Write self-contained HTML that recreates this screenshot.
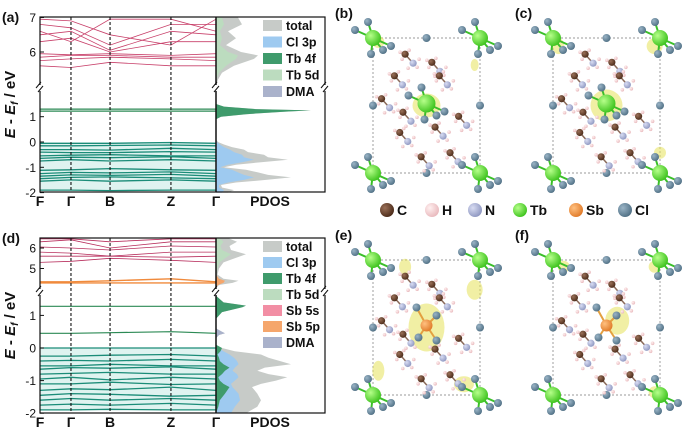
<!DOCTYPE html>
<html><head><meta charset="utf-8">
<style>
html,body{margin:0;padding:0;background:#fff;}
svg{display:block;font-family:"Liberation Sans",Arial,sans-serif;}
</style></head>
<body>
<svg id="fig" width="693" height="436" viewBox="0 0 693 436" xmlns="http://www.w3.org/2000/svg">
<g id="bandA"></g>
<g id="bandD"></g>
<g id="structs"></g>
</svg>
<script>
// ---------- DATA ----------
const kLabels = ["F","Γ","B","Z","Γ"];
const kFrac = [0, 0.176, 0.398, 0.744, 1];
// panel (a) bands: energies at 5 k-points
const bandsA_valence = [[-1.9,-1.9,-1.92,-1.9,-1.9],[-1.55,-1.5,-1.55,-1.5,-1.55],[-1.45,-1.4,-1.38,-1.42,-1.45],[-1.35,-1.3,-1.32,-1.28,-1.35],[-1.25,-1.2,-1.22,-1.18,-1.25],[-1.12,-1.1,-1.05,-1.1,-1.12],[-0.75,-0.7,-0.75,-0.7,-0.75],[-0.65,-0.6,-0.62,-0.58,-0.65],[-0.55,-0.52,-0.5,-0.55,-0.55],[-0.4,-0.42,-0.42,-0.38,-0.4],[-0.3,-0.3,-0.32,-0.25,-0.3],[-0.15,-0.15,-0.14,-0.12,-0.15],[-0.05,-0.05,-0.05,-0.02,-0.05]];
const bandsA_4f = [[1.22,1.22,1.22,1.22,1.22],[1.3,1.3,1.3,1.3,1.3]];
const bandsA_cond = [[5.6,5.55,5.7,5.6,5.6],[5.75,5.8,5.85,5.8,5.75],[5.85,5.9,5.9,5.85,5.85],[5.95,5.92,5.95,5.9,5.95],[6.3,6.4,6.0,6.3,6.3],[6.5,6.6,6.05,6.6,6.5],[6.8,6.7,6.2,6.8,6.8],[6.95,6.9,6.5,6.2,6.95],[6.6,6.3,6.95,6.95,6.6]];
// panel (d) bands
const bandsD_valence = [[-1.9,-1.9,-1.88,-1.9,-1.9],[-1.75,-1.72,-1.75,-1.7,-1.75],[-1.6,-1.55,-1.6,-1.55,-1.6],[-1.45,-1.4,-1.42,-1.48,-1.45],[-1.3,-1.25,-1.28,-1.2,-1.3],[-1.1,-1.1,-1.05,-1.12,-1.1],[-0.95,-0.9,-0.98,-0.9,-0.95],[-0.8,-0.78,-0.75,-0.8,-0.8],[-0.65,-0.6,-0.62,-0.58,-0.65],[-0.55,-0.55,-0.5,-0.55,-0.55],[-0.4,-0.38,-0.4,-0.35,-0.4],[-0.25,-0.25,-0.22,-0.2,-0.25],[0,0,0,0,0]];
const bandsD_4f = [[0.45,0.45,0.47,0.5,0.45],[1.28,1.28,1.28,1.28,1.28]];
const bandsD_sb = [[4.35,4.35,4.4,4.5,4.35],[4.3,4.3,4.3,4.3,4.3]];
const bandsD_cond = [[5.3,5.35,5.5,5.4,5.3],[5.6,5.6,5.6,5.55,5.6],[5.8,5.75,5.6,5.8,5.8],[6.05,6.0,5.9,6.1,6.05],[6.3,6.4,6.0,6.3,6.3],[6.45,6.45,6.3,6.45,6.45]];
// PDOS (a)
const eA = [-2,-1.9,-1.8,-1.7,-1.6,-1.5,-1.4,-1.3,-1.2,-1.1,-1.0,-0.9,-0.8,-0.7,-0.6,-0.5,-0.4,-0.3,-0.2,-0.1,0,0.1,0.9,1.0,1.1,1.2,1.25,1.3,1.4,1.5,1.8];
const totA = [12,18,6,5,20,50,75,52,42,30,8,20,45,72,52,48,32,28,16,8,2,0,0,5,30,70,95,40,8,0,0];
const clA = [6,8,3,3,12,28,38,28,22,16,4,12,26,38,28,26,18,14,8,4,1,0,0,0,0,0,0,0,0,0,0];
const f4A = [0,0,0,0,0,0,0,0,0,0,0,0,0,0,0,0,0,0,0,0,0,0,0,5,30,70,95,40,8,0,0];
const eAu = [5.0,5.2,5.4,5.6,5.8,5.9,6.0,6.2,6.4,6.6,6.8,7.0];
const totAu = [0,2,6,18,38,42,25,10,20,12,26,22];
const d5Au = [0,0,3,10,20,22,12,4,6,4,8,6];
// PDOS (d)
const eD = [-2,-1.8,-1.6,-1.4,-1.2,-1.1,-1.0,-0.9,-0.8,-0.7,-0.6,-0.5,-0.4,-0.3,-0.2,-0.1,0,0.1,0.3,0.4,0.45,0.5,0.6,0.9,1.1,1.25,1.3,1.4,1.6];
const totD = [40,55,60,55,48,60,80,95,70,55,65,100,85,70,60,25,8,0,0,4,12,8,0,0,8,35,40,10,0];
const clD = [20,25,32,30,22,20,25,30,28,22,25,30,28,24,18,10,3,0,0,0,0,0,0,0,0,0,0,0,0];
const f4D = [0,3,5,12,18,10,5,3,8,12,18,10,5,4,2,6,8,0,0,0,0,0,0,0,8,35,40,10,0];
const dmaD = [0,0,0,0,0,0,0,0,0,0,0,0,0,0,0,0,0,0,0,4,12,8,0,0,0,0,0,0,0];
const eDu = [4.1,4.2,4.3,4.4,4.5,4.7,5.0,5.3,5.5,5.7,5.9,6.1,6.3,6.5];
const totDu = [0,5,22,30,10,2,4,10,25,40,20,18,28,15];
const sbDu = [0,3,10,12,4,0,0,0,0,0,0,0,0,0];
const d5Du = [0,0,0,0,0,0,2,5,12,20,8,6,10,4];

// ---------- DRAW ----------
const NS="http://www.w3.org/2000/svg";
function mk(parent,tag,attrs,text){const e=document.createElementNS(NS,tag);for(const k in attrs)e.setAttribute(k,attrs[k]);if(text!==undefined)e.textContent=text;parent.appendChild(e);return e;}

function panel(g, cfg){
  const X0=40,X1=216,XP=325;
  const kx=f=>X0+(X1-X0)*f;
  const y=cfg.y;
  const px=v=>X1+v*cfg.pscale;
  // band lines
  function drawBands(arr,color,w,name){
    arr.forEach((b,i)=>{
      const d=b.map((e,j)=>(j?"L":"M")+kx(kFrac[j]).toFixed(1)+" "+y(e).toFixed(1)).join(" ");
      const p=mk(g,"path",{d:d,stroke:color,"stroke-width":w,fill:"none"});
      
      
    });
  }
  // shading under valence bands
  const vb=cfg.valence;
  const lo=Math.min(...vb.map(b=>Math.min(...b))), hi=Math.max(...vb.map(b=>Math.max(...b)));
  mk(g,"rect",{x:X0,y:y(hi),width:X1-X0,height:y(lo)-y(hi),fill:"#dff3f0"});
  drawBands(vb,"#1b8c78",1.3,"valence-band");
  drawBands(cfg.f4,"#2c8a55",1.2,"tb4f-band");
  if(cfg.sb) drawBands(cfg.sb,"#f08a3c",1.4,"sb5p-band");
  drawBands(cfg.cond,cfg.condColor,0.8,"conduction-band");
  // k dashed lines
  [1,2,3].forEach(i=>{const l=mk(g,"line",{x1:kx(kFrac[i]),x2:kx(kFrac[i]),y1:cfg.top,y2:cfg.bot,stroke:"#111","stroke-width":1.1,"stroke-dasharray":"3,2"});
    });
  // PDOS areas
  function area(es,vs,color,name){
    let d="M"+px(0)+" "+y(es[0]);
    es.forEach((e,i)=>{d+=" L"+px(vs[i]).toFixed(1)+" "+y(e).toFixed(1);});
    d+=" L"+px(0)+" "+y(es[es.length-1])+"Z";
    const p=mk(g,"path",{d:d,fill:color,stroke:"none"});
    
  }
  cfg.pdos.forEach(s=>area(s[0],s[1],s[2],s[3]));
  // break gap
  mk(g,"rect",{x:X0-3,y:cfg.brk-2,width:4,height:4,fill:"#fff"});
  mk(g,"rect",{x:X1-2,y:cfg.brk-2,width:4,height:4,fill:"#fff"});
  // frames
  mk(g,"rect",{x:X0,y:cfg.top,width:XP-X0,height:cfg.bot-cfg.top,fill:"none",stroke:"#111","stroke-width":1.2});
  mk(g,"line",{x1:X1,x2:X1,y1:cfg.top,y2:cfg.bot,stroke:"#111","stroke-width":1.5});
  // break marks
  [X0,X1,XP].forEach(x=>{
    mk(g,"rect",{x:x-2,y:cfg.brk-3,width:4,height:6,fill:"#fff"});
    mk(g,"line",{x1:x-4,y1:cfg.brk,x2:x+1,y2:cfg.brk-6,stroke:"#111","stroke-width":1});
    mk(g,"line",{x1:x-2,y1:cfg.brk+4,x2:x+3,y2:cfg.brk-2,stroke:"#111","stroke-width":1});
  });
  // y ticks
  cfg.ticks.forEach(t=>{
    mk(g,"line",{x1:X0,x2:X0+4,y1:y(t),y2:y(t),stroke:"#111"});
    const tx=mk(g,"text",{x:X0-4,y:y(t)+4.5,"text-anchor":"end","font-size":12,fill:"#111"},String(t).replace("-","-"));
    
  });
  // x labels
  kLabels.forEach((k,i)=>{const t=mk(g,"text",{x:kx(kFrac[i]),y:cfg.bot+14,"text-anchor":"middle","font-size":14,"font-weight":"bold",fill:"#111"},k);
    });
  const pl=mk(g,"text",{x:270,y:cfg.bot+14,"text-anchor":"middle","font-size":14,"font-weight":"bold",fill:"#111"},"PDOS");
  
  // y title
  const yt=mk(g,"text",{transform:`translate(15,${(cfg.top+cfg.bot)/2}) rotate(-90)`,"text-anchor":"middle","font-size":15,"font-weight":"bold",fill:"#111"});
  yt.innerHTML='<tspan font-style="italic">E</tspan> - <tspan font-style="italic">E</tspan><tspan font-size="10" dy="3" font-style="italic">f</tspan><tspan dy="-3"> / eV</tspan>';
  
  // panel label
  const lb=mk(g,"text",{x:2,y:cfg.top+5,"font-size":14,"font-weight":"bold",fill:"#111"},cfg.label);
  
  // legend
  cfg.legend.forEach((L,i)=>{
    const gy=cfg.legY+i*cfg.legDy;
    const lg=mk(g,"g",{});
    
    
    mk(lg,"rect",{x:263,y:gy-5,width:19,height:11,fill:L[1]});
    mk(lg,"text",{x:286,y:gy+5,"font-size":12.5,"font-weight":"bold",fill:"#111"},L[0]);
  });
}

const cTot="#c7cbc8",cCl="#9ecaf0",c4f="#3f9b6c",c5d="#bcdcbf",cDMA="#aab2cb",cSs="#f28ea4",cSp="#f5a66c";
panel(document.getElementById("bandA"),{
  label:"(a)",top:17,bot:192,brk:88,
  y:e=>e>3?52-(e-6)*34.5:142-e*25.3,
  ticks:[7,6,1,0,-1,-2],pscale:1.0,
  valence:bandsA_valence,f4:bandsA_4f,cond:bandsA_cond,condColor:"#c8406a",
  pdos:[[eA,totA,cTot,"total"],[eA,clA,cCl,"cl3p"],[eA,f4A,c4f,"tb4f"],[eAu,totAu,cTot,"total-upper"],[eAu,d5Au,c5d,"tb5d"]],
  legend:[["total",cTot],["Cl 3p",cCl],["Tb 4f",c4f],["Tb 5d",c5d],["DMA",cDMA]],legY:25,legDy:16.5
});
panel(document.getElementById("bandD"),{
  label:"(d)",top:238,bot:413,brk:292,
  y:e=>e>3?248-(e-6)*20.5:348-e*32.6,
  ticks:[6,5,1,0,-1,-2],pscale:0.75,
  valence:bandsD_valence,f4:bandsD_4f,sb:bandsD_sb,cond:bandsD_cond,condColor:"#b8305e",
  pdos:[[eD,totD,cTot,"total"],[eD,clD,cCl,"cl3p"],[eD,f4D,c4f,"tb4f"],[eD,dmaD,cDMA,"dma"],[eDu,totDu,cTot,"total-upper"],[eDu,sbDu,cSp,"sb5p"],[eDu,d5Du,c5d,"tb5d"]],
  legend:[["total",cTot],["Cl 3p",cCl],["Tb 4f",c4f],["Tb 5d",c5d],["Sb 5s",cSs],["Sb 5p",cSp],["DMA",cDMA]],legY:246,legDy:16
});

// ---------- STRUCTURES ----------
const S=document.getElementById("structs");
const defs=mk(S,"defs",{});
function grad(id,c1,c2){const r=mk(defs,"radialGradient",{id:id,cx:"35%",cy:"35%",r:"70%"});mk(r,"stop",{offset:"0",  "stop-color":c1});mk(r,"stop",{offset:"1","stop-color":c2});}
grad("gTb","#b6ff8a","#3cc21c");grad("gCl","#9ab4c6","#4f6f84");grad("gC","#9a7058","#4a2a18");
grad("gN","#d8dcf2","#8d96c0");grad("gH","#fff0f0","#e8b8bc");grad("gSb","#ffc080","#e07a28");
const molecules=[[0.3,0.12],[0.2,0.28],[0.55,0.18],[0.62,0.28],[0.28,0.55],[0.25,0.7],[0.58,0.66],[0.8,0.58],[0.72,0.85],[0.45,0.88],[0.08,0.45]];
function structure(ox,oy,label,center,glow){
  const g=mk(S,"g",{});
  
  
  const W=107,H=135;
  mk(g,"text",{x:ox-38,y:oy-20,"font-size":14,"font-weight":"bold",fill:"#111"},label);
  mk(g,"rect",{x:ox,y:oy,width:W,height:H,fill:"none",stroke:"#777","stroke-width":0.7,"stroke-dasharray":"2,2"});
  if(glow) glow.forEach(p=>mk(g,"ellipse",{cx:ox+p[0]*W,cy:oy+p[1]*H,rx:p[2],ry:p[3],fill:"#e6e25a",opacity:0.55}));
  // edge Cl
  [[0.5,0],[0.5,1],[0,0.5],[1,0.5]].forEach(p=>mk(g,"circle",{cx:ox+p[0]*W,cy:oy+p[1]*H,r:4,fill:"url(#gCl)"}));
  molecules.forEach(m=>{
    const x=ox+m[0]*W,y=oy+m[1]*H;
    mk(g,"line",{x1:x,y1:y,x2:x+8,y2:y+9,stroke:"#8a6a5a","stroke-width":1.5});
    [[-5,-2],[4,-4],[-3,5],[12,13],[3,14],[14,5]].forEach(h=>mk(g,"circle",{cx:x+h[0],cy:y+h[1],r:1.8,fill:"url(#gH)"}));
    mk(g,"circle",{cx:x,cy:y,r:3.6,fill:"url(#gC)"});
    mk(g,"circle",{cx:x+8,cy:y+9,r:3.6,fill:"url(#gN)"});
  });
  function metal(cx,cy,grd,r){
    [[-18,-8],[-5,-16],[10,12],[-2,16],[18,8]].forEach(c=>{mk(g,"line",{x1:cx,y1:cy,x2:cx+c[0],y2:cy+c[1],stroke:"#3bbf2a","stroke-width":2});mk(g,"circle",{cx:cx+c[0],cy:cy+c[1],r:4,fill:"url(#gCl)"});});
    mk(g,"circle",{cx:cx,cy:cy,r:r,fill:grd});
  }
  [[0,0],[1,0],[0,1],[1,1]].forEach(p=>metal(ox+p[0]*W,oy+p[1]*H,"url(#gTb)",8));
  if(center==="Tb") metal(ox+W/2,oy+H/2-2,"url(#gTb)",9);
  else { const cx=ox+W/2,cy=oy+H/2-2;
    [[-10,-18],[10,-10],[-8,12],[10,15]].forEach(c=>{mk(g,"line",{x1:cx,y1:cy,x2:cx+c[0],y2:cy+c[1],stroke:"#e3a040","stroke-width":2});mk(g,"circle",{cx:cx+c[0],cy:cy+c[1],r:4,fill:"url(#gCl)"});});
    mk(g,"circle",{cx:cx,cy:cy,r:6,fill:"url(#gSb)"});}
}
structure(373,38,"(b)","Tb",[[0.5,0.5,14,12],[0.05,0.03,6,6],[0.95,0.2,4,6]]);
structure(553,38,"(c)","Tb",[[0.5,0.5,16,16],[0.05,0.06,6,8],[0.95,0.06,8,8],[1,0.85,6,6]]);
structure(373,260,"(e)","Sb",[[0.5,0.5,18,24],[0.3,0.05,6,8],[0.95,0.22,8,10],[0.05,0.82,6,10],[0.85,0.92,10,8]]);
structure(553,260,"(f)","Sb",[[0.6,0.45,12,14],[0.1,0.05,6,6],[0.95,0.05,6,6],[0.95,0.98,6,6]]);
// atom legend
const atomLeg=[["C","url(#gC)",387],["H","url(#gH)",432],["N","url(#gN)",475],["Tb","url(#gTb)",520],["Sb","url(#gSb)",576],["Cl","url(#gCl)",625]];
atomLeg.forEach(a=>{
  const g=mk(S,"g",{});
  
  
  mk(g,"circle",{cx:a[2],cy:210,r:7,fill:a[1]});
  mk(g,"text",{x:a[2]+10,y:215,"font-size":14,"font-weight":"bold",fill:"#111"},a[0]);
});
</script>
</body></html>
